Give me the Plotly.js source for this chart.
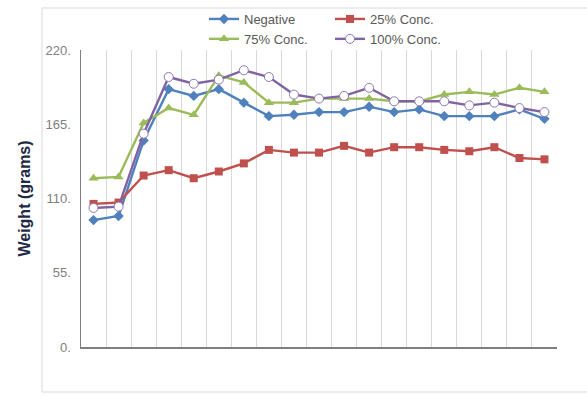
<!DOCTYPE html>
<html>
<head>
<meta charset="utf-8">
<script src="https://cdn.plot.ly/plotly-3.0.1.min.js"></script>
<style>
  html, body { margin: 0; padding: 0; background: #ffffff; }
  #chart { width: 587px; height: 396px; }
</style>
</head>
<body>
<div id="chart"></div>
<script>
// Measurement days (categories along the x axis, labels not shown)
const days = ['1','2','3','4','5','6','7','8','9','10','11','12','13','14','15','16','17','18','19'];

// Weight in grams for each treatment group
const negative = [94, 97, 153, 191, 186, 191, 181, 171, 172, 174, 174, 178, 174, 176, 171, 171, 171, 176, 169];
const conc25   = [106, 107, 127, 131, 125, 130, 136, 146, 144, 144, 149, 144, 148, 148, 146, 145, 148, 140, 139];
const conc75   = [125, 126, 166, 177, 172, 201, 196, 181, 181, 184, 184, 184, 182, 182, 187, 189, 187, 192, 189];
const conc100  = [103, 104, 158, 200, 195, 198, 205, 200, 187, 184, 186, 192, 182, 182, 182, 179, 181, 177, 174];

// Y axis ticks
const yTickVals  = [0, 55, 110, 165, 220];
const yTickText  = ['0.', '55.', '110.', '165.', '220.'];

const FONT = 'Liberation Sans, Arial, Helvetica, sans-serif';
const W = 587, H = 396;
const M = { l: 81, r: 30, t: 50, b: 49, autoexpand: false };
const plotW = W - M.l - M.r, plotH = H - M.t - M.b;

// helpers: pixel position -> paper fraction
const px = x => (x - M.l) / plotW;
const py = y => (H - M.b - y) / plotH;

function series(name, y, color, marker, legend) {
  return {
    type: 'scatter', mode: 'lines+markers',
    x: days, y: y, name: name, legend: legend,
    line: { color: color, width: 2.4 },
    marker: marker,
    cliponaxis: false
  };
}

const traces = [
  series('Negative', negative, '#4f81bd', { symbol: 'diamond', size: 8, color: '#4f81bd' }, 'legend'),
  series('25% Conc.', conc25, '#c0504d', { symbol: 'square', size: 8, color: '#c0504d' }, 'legend2'),
  series('75% Conc.', conc75, '#9bbb59', { symbol: 'triangle-up', size: 9, color: '#9bbb59' }, 'legend'),
  series('100% Conc.', conc100, '#8064a2', { symbol: 'circle', size: 9, color: '#ffffff', line: { color: '#8f78b5', width: 1 } }, 'legend2')
];

const legendCommon = {
  orientation: 'v',
  yanchor: 'top', xanchor: 'left',
  font: { family: FONT, size: 13, color: '#595959' },
  bgcolor: 'rgba(0,0,0,0)',
  borderwidth: 0,
  itemclick: false
};

const layout = {
  width: W, height: H,
  margin: M,
  paper_bgcolor: '#ffffff',
  plot_bgcolor: '#ffffff',
  font: { family: FONT },
  showlegend: true,
  legend: Object.assign({ x: px(204), y: py(4) }, legendCommon),
  legend2: Object.assign({ x: px(330), y: py(4) }, legendCommon),
  xaxis: {
    type: 'category',
    range: [-0.5, days.length - 0.5],
    tickson: 'boundaries',
    showgrid: true, gridcolor: '#d9d9d9', gridwidth: 1,
    showticklabels: false,
    ticks: '',
    showline: true, linecolor: '#7f7f7f', linewidth: 2,
    zeroline: false,
    fixedrange: true
  },
  yaxis: {
    range: [0, 220],
    tickmode: 'array', tickvals: yTickVals, ticktext: yTickText,
    showgrid: false, zeroline: false,
    showline: true, linecolor: '#7f7f7f', linewidth: 1.5,
    ticks: '',
    ticklabelstandoff: 6,
    tickfont: { family: FONT, size: 13, color: '#808080' },
    title: {
      text: 'Weight (grams)',
      font: { family: FONT, size: 16, color: '#1f2a44', weight: 'bold' },
      standoff: 11
    },
    fixedrange: true
  },
  shapes: [{
    type: 'rect', xref: 'paper', yref: 'paper',
    x0: px(42), x1: px(590), y0: py(392), y1: py(8),
    line: { color: '#d9d9d9', width: 1 },
    fillcolor: 'rgba(0,0,0,0)', layer: 'below'
  }]
};

Plotly.newPlot('chart', traces, layout, { displayModeBar: false, staticPlot: true });
</script>
</body>
</html>
